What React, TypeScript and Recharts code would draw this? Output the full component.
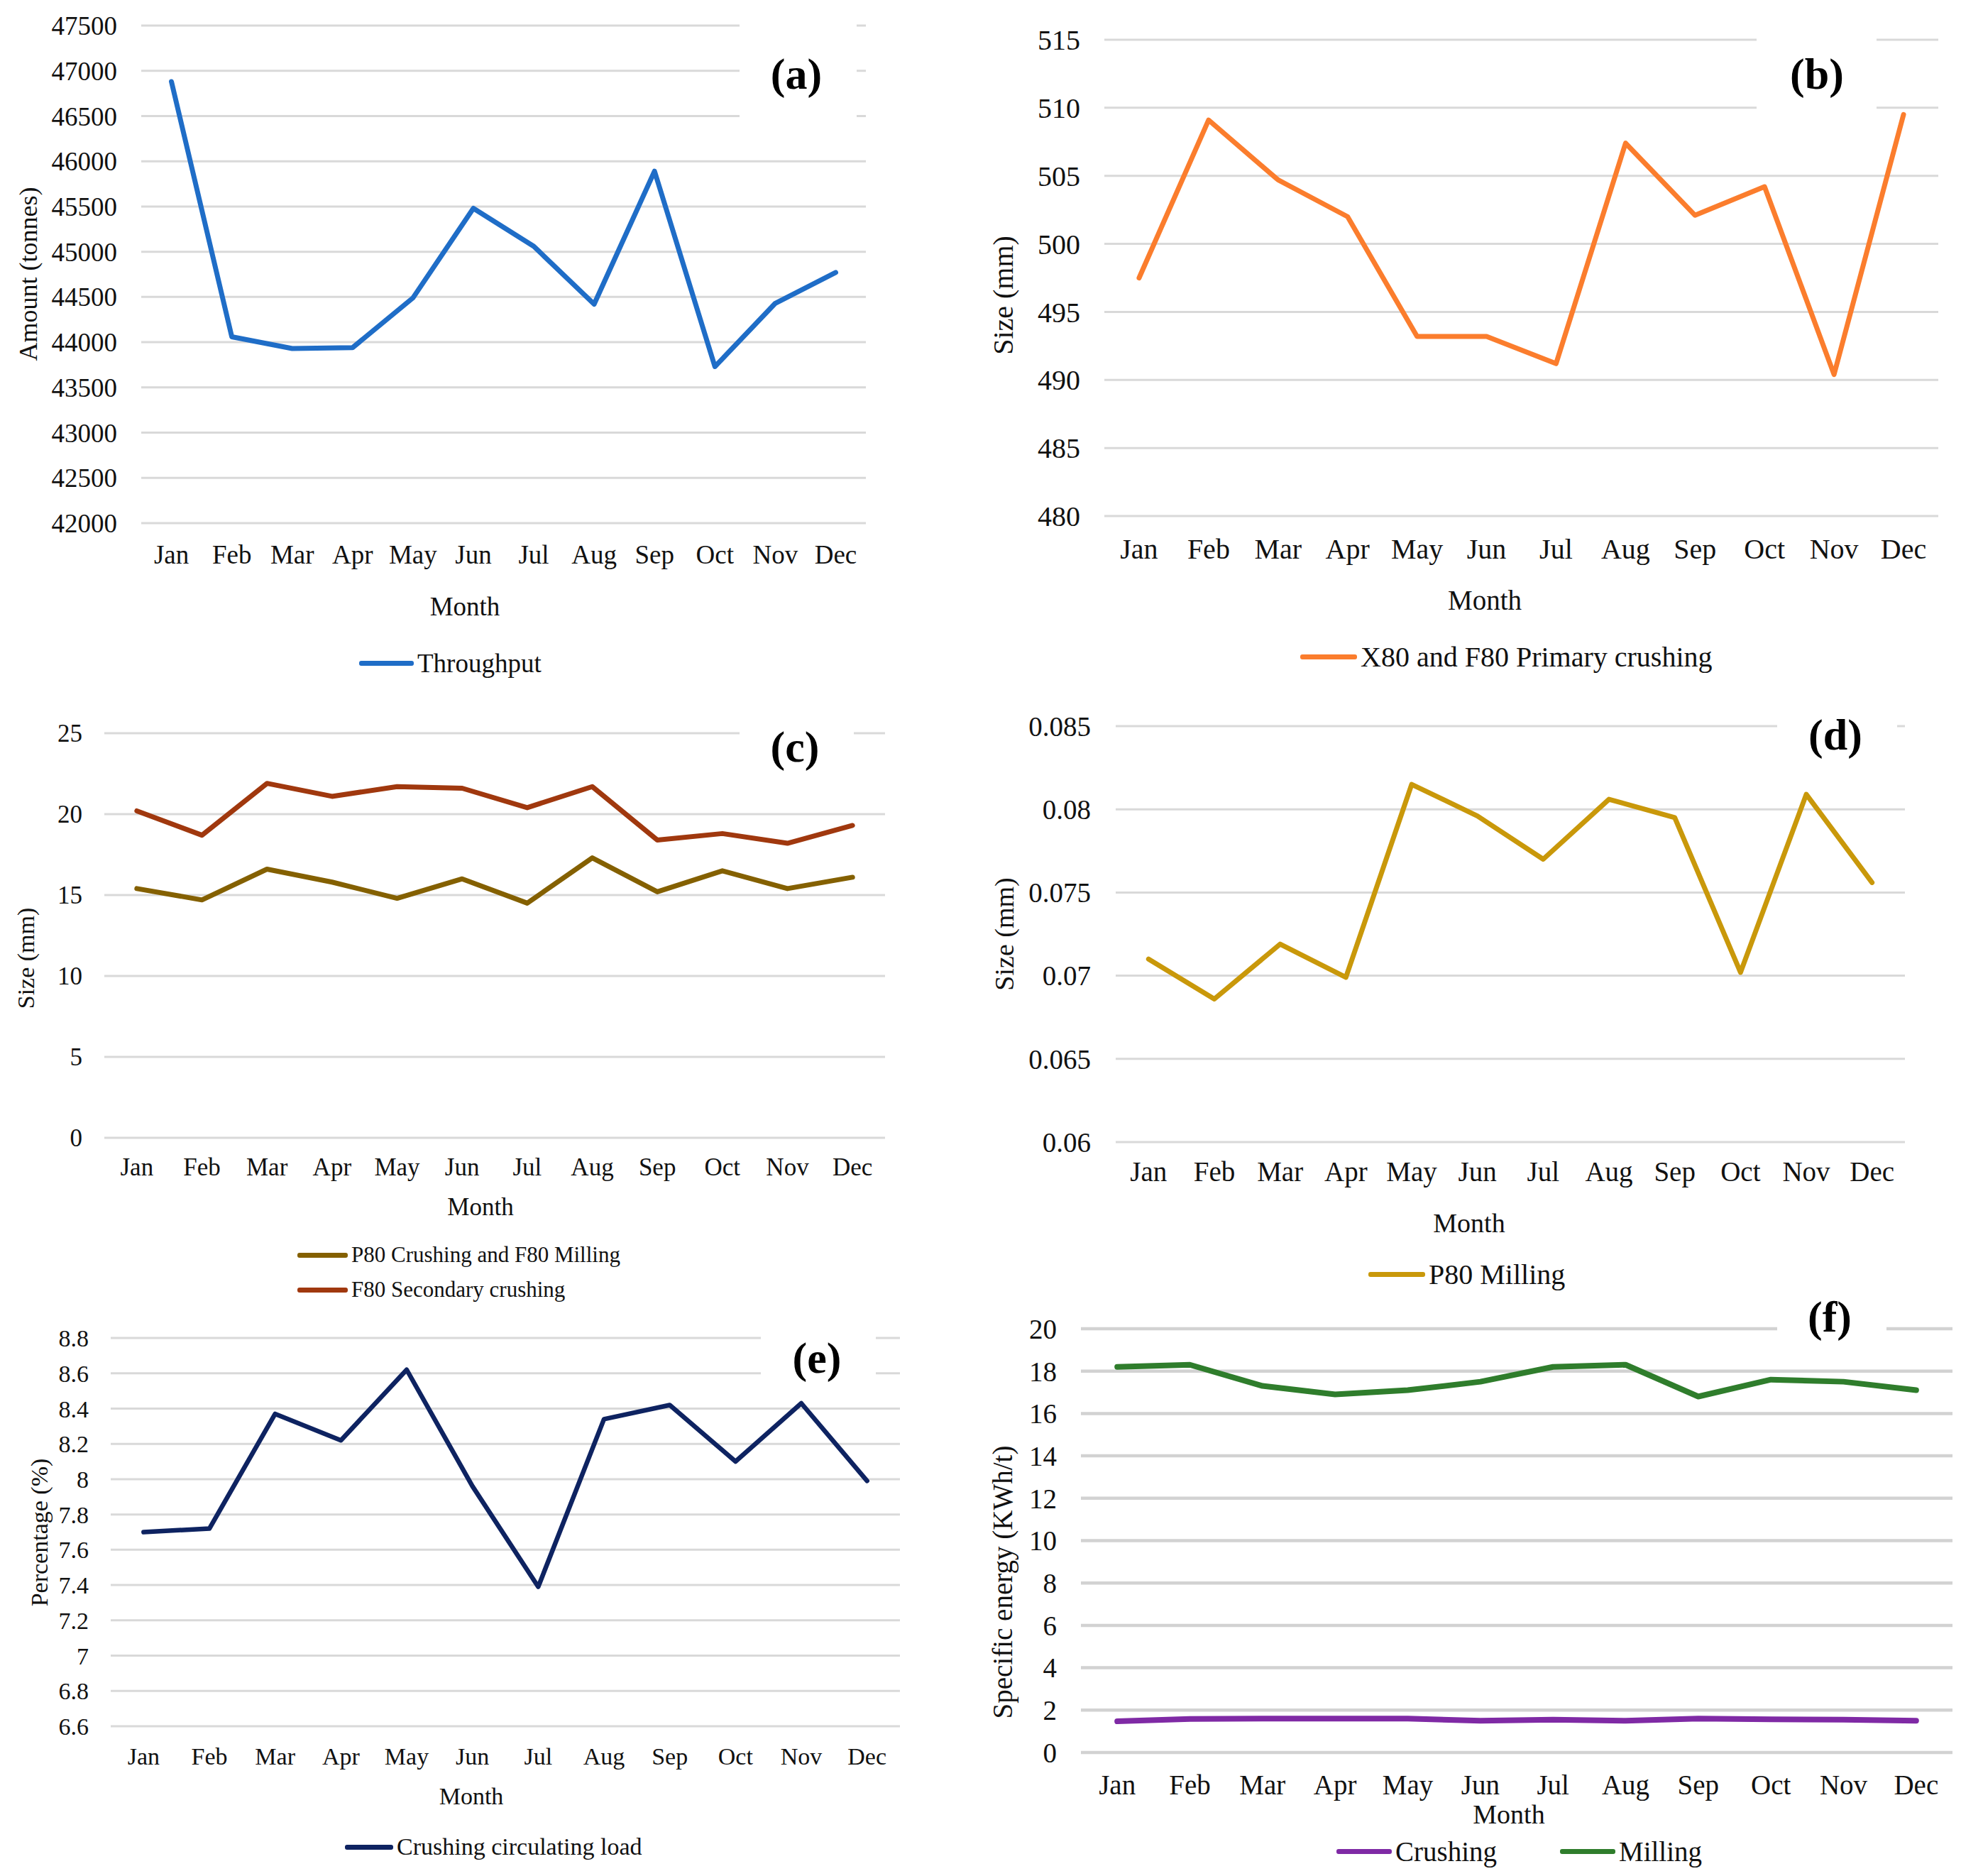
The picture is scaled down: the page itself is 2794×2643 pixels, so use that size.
import { LineChart, Line, XAxis, YAxis, CartesianGrid, Legend } from "recharts";

const FONT = '"Liberation Serif", "Times New Roman", serif';

const months = ["Jan", "Feb", "Mar", "Apr", "May", "Jun", "Jul", "Aug", "Sep", "Oct", "Nov", "Dec"];

// (a) throughput, tonnes
const throughput = [46880, 44060, 43930, 43940, 44490, 45480, 45060, 44420, 45890, 43730, 44430, 44770];
// (b) X80 and F80 primary crushing, mm
const primaryCrushing = [497.5, 509.1, 504.7, 502.0, 493.2, 493.2, 491.2, 507.4, 502.1, 504.2, 490.4, 509.5];
// (c) sizes, mm
const p80CrushingF80Milling = [15.4, 14.7, 16.6, 15.8, 14.8, 16.0, 14.5, 17.3, 15.2, 16.5, 15.4, 16.1];
const f80Secondary = [20.2, 18.7, 21.9, 21.1, 21.7, 21.6, 20.4, 21.7, 18.4, 18.8, 18.2, 19.3];
// (d) P80 milling, mm
const p80Milling = [0.071, 0.0686, 0.0719, 0.0699, 0.0815, 0.0796, 0.077, 0.0806, 0.0795, 0.0702, 0.0809, 0.0756];
// (e) crushing circulating load, %
const circulatingLoad = [7.7, 7.72, 8.37, 8.22, 8.62, 7.96, 7.39, 8.34, 8.42, 8.1, 8.43, 7.99];
// (f) specific energy, kWh/t
const crushingEnergy = [1.47, 1.58, 1.6, 1.6, 1.6, 1.5, 1.55, 1.5, 1.6, 1.57, 1.55, 1.5];
const millingEnergy = [18.2, 18.3, 17.3, 16.9, 17.1, 17.5, 18.2, 18.3, 16.8, 17.6, 17.5, 17.1];

const ticksA = [42000, 42500, 43000, 43500, 44000, 44500, 45000, 45500, 46000, 46500, 47000, 47500];
const ticksB = [480, 485, 490, 495, 500, 505, 510, 515];
const ticksC = [0, 5, 10, 15, 20, 25];
const ticksD = [0.06, 0.065, 0.07, 0.075, 0.08, 0.085];
const ticksE = [6.6, 6.8, 7, 7.2, 7.4, 7.6, 7.8, 8, 8.2, 8.4, 8.6, 8.8];
const ticksF = [0, 2, 4, 6, 8, 10, 12, 14, 16, 18, 20];

type Series = { key: string; name: string; color: string; values: number[] };

type PanelCfg = {
  x0: number; y0: number; w: number; h: number;
  L: number; R: number; T: number; B: number;
  fs: number; yTickGap: number; xTickGap: number;
  yTicks: number[];
  yTitle: string; yTitleX: number; yTitleY: number; yTitleFs: number;
  monthX: number; monthY: number; monthFs: number;
  series: Series[];
  stroke: number;
  grid: { color: string; width: number };
  // y is the centre of the first legend row
  legend: { x: number; y: number; fs: number; lineLen: number; vertical?: boolean; rowH?: number; itemGap?: number };
  letter: { text: string; cx: number; cy: number; l: number; r: number; t: number; b: number };
};

function Panel({ cfg }: { cfg: PanelCfg }) {
  const data = months.map((m, i) => {
    const row: Record<string, string | number> = { month: m };
    cfg.series.forEach((s) => {
      row[s.key] = s.values[i];
    });
    return row;
  });
  const pad = (cfg.R - cfg.L) / 24;
  const lg = cfg.legend;
  const rowH = lg.rowH ?? Math.round(lg.fs * 1.3);
  const order = cfg.series.map((s) => s.name);

  const legendContent = (props: any) => {
    const items = [...(props.payload || [])].sort(
      (a: any, b: any) => order.indexOf(a.value) - order.indexOf(b.value)
    );
    return (
      <div
        style={{
          display: "flex",
          flexDirection: lg.vertical ? "column" : "row",
          fontFamily: FONT,
          fontSize: lg.fs,
          color: "#111",
          whiteSpace: "nowrap",
        }}
      >
        {items.map((e: any) => (
          <div
            key={e.value}
            style={{ display: "flex", alignItems: "center", height: rowH, marginRight: lg.itemGap ?? 0 }}
          >
            <span
              style={{
                display: "inline-block",
                width: lg.lineLen,
                height: 7,
                borderRadius: 3,
                background: e.color,
                marginRight: 5,
              }}
            />
            <span>{e.value}</span>
          </div>
        ))}
      </div>
    );
  };

  const lx = cfg.letter;

  return (
    <div style={{ position: "absolute", left: cfg.x0, top: cfg.y0, width: cfg.w, height: cfg.h }}>
      <LineChart
        width={cfg.w}
        height={cfg.h}
        data={data}
        margin={{ top: cfg.T - cfg.y0, right: cfg.x0 + cfg.w - cfg.R, bottom: 0, left: 0 }}
      >
        <CartesianGrid vertical={false} stroke={cfg.grid.color} strokeWidth={cfg.grid.width} />
        <XAxis
          dataKey="month"
          height={cfg.y0 + cfg.h - cfg.B}
          padding={{ left: pad, right: pad }}
          axisLine={false}
          tickLine={false}
          tickSize={0}
          tickMargin={cfg.xTickGap}
          interval={0}
          tick={{ fill: "#111", fontSize: cfg.fs, fontFamily: FONT }}
          label={() => (
            <text
              x={cfg.monthX - cfg.x0}
              y={cfg.monthY - cfg.y0}
              textAnchor="middle"
              dominantBaseline="central"
              fontFamily={FONT}
              fontSize={cfg.monthFs}
              fill="#111"
            >
              Month
            </text>
          )}
        />
        <YAxis
          width={cfg.L - cfg.x0}
          type="number"
          domain={[cfg.yTicks[0], cfg.yTicks[cfg.yTicks.length - 1]]}
          ticks={cfg.yTicks}
          interval={0}
          axisLine={false}
          tickLine={false}
          tickSize={0}
          tickMargin={cfg.yTickGap}
          tick={{ fill: "#111", fontSize: cfg.fs, fontFamily: FONT }}
          label={() => (
            <text
              x={cfg.yTitleX - cfg.x0}
              y={cfg.yTitleY - cfg.y0}
              transform={`rotate(-90, ${cfg.yTitleX - cfg.x0}, ${cfg.yTitleY - cfg.y0})`}
              textAnchor="middle"
              dominantBaseline="central"
              fontFamily={FONT}
              fontSize={cfg.yTitleFs}
              fill="#111"
            >
              {cfg.yTitle}
            </text>
          )}
        />
        <Legend
          layout="horizontal"
          verticalAlign="middle"
          align="center"
          content={legendContent}
          wrapperStyle={{
            left: lg.x - cfg.x0,
            top: lg.y - cfg.y0 - rowH / 2,
            width: "auto",
            height: "auto",
          }}
        />
        {cfg.series.map((s) => (
          <Line
            key={s.key}
            type="linear"
            dataKey={s.key}
            name={s.name}
            stroke={s.color}
            strokeWidth={cfg.stroke}
            strokeLinejoin="round"
            strokeLinecap="round"
            dot={false}
            activeDot={false}
            isAnimationActive={false}
          />
        ))}
      </LineChart>
      <div
        style={{
          position: "absolute",
          left: lx.l - cfg.x0,
          top: lx.t - cfg.y0,
          width: lx.r - lx.l,
          height: lx.b - lx.t,
          background: "#fff",
        }}
      />
      <div
        style={{
          position: "absolute",
          left: lx.cx - cfg.x0,
          top: lx.cy - cfg.y0,
          transform: "translate(-50%, -50%)",
          fontFamily: FONT,
          fontWeight: "bold",
          fontSize: 62,
          lineHeight: 1,
          color: "#000",
          whiteSpace: "nowrap",
        }}
      >
        {lx.text}
      </div>
    </div>
  );
}

const grid = { color: "#d9d9d9", width: 3 };

const panels: PanelCfg[] = [
  {
    x0: 0, y0: 0, w: 1240, h: 975, L: 199, R: 1220, T: 36, B: 737,
    fs: 37, yTickGap: 34, xTickGap: 31, yTicks: ticksA,
    yTitle: "Amount (tonnes)", yTitleX: 40, yTitleY: 386, yTitleFs: 36,
    monthX: 655, monthY: 854, monthFs: 37,
    series: [{ key: "throughput", name: "Throughput", color: "#1F6DC7", values: throughput }],
    stroke: 7, grid,
    legend: { x: 506, y: 934, fs: 37, lineLen: 77 },
    letter: { text: "(a)", cx: 1122, cy: 104, l: 1042, r: 1207, t: 20, b: 180 },
  },
  {
    x0: 1360, y0: 0, w: 1434, h: 975, L: 1556, R: 2731, T: 56, B: 727,
    fs: 40, yTickGap: 34, xTickGap: 32, yTicks: ticksB,
    yTitle: "Size (mm)", yTitleX: 1413, yTitleY: 416, yTitleFs: 40,
    monthX: 2092, monthY: 845, monthFs: 39,
    series: [{ key: "primary", name: "X80 and F80 Primary crushing", color: "#FB7D2D", values: primaryCrushing }],
    stroke: 7, grid,
    legend: { x: 1832, y: 925, fs: 40, lineLen: 80 },
    letter: { text: "(b)", cx: 2560, cy: 104, l: 2475, r: 2644, t: 30, b: 170 },
  },
  {
    x0: 0, y0: 975, w: 1300, h: 870, L: 147, R: 1247, T: 1033, B: 1603,
    fs: 35, yTickGap: 31, xTickGap: 28, yTicks: ticksC,
    yTitle: "Size (mm)", yTitleX: 36, yTitleY: 1350, yTitleFs: 34,
    monthX: 677, monthY: 1700, monthFs: 35,
    series: [
      { key: "p80c", name: "P80 Crushing and F80 Milling", color: "#846000", values: p80CrushingF80Milling },
      { key: "f80s", name: "F80 Secondary crushing", color: "#A0380E", values: f80Secondary },
    ],
    stroke: 7, grid,
    legend: { x: 419, y: 1768, fs: 31, lineLen: 71, vertical: true, rowH: 49 },
    letter: { text: "(c)", cx: 1120, cy: 1052, l: 1042, r: 1203, t: 1005, b: 1100 },
  },
  {
    x0: 1360, y0: 975, w: 1434, h: 865, L: 1572, R: 2684, T: 1023, B: 1609,
    fs: 39, yTickGap: 35, xTickGap: 27, yTicks: ticksD,
    yTitle: "Size (mm)", yTitleX: 1415, yTitleY: 1316, yTitleFs: 38,
    monthX: 2070, monthY: 1723, monthFs: 38,
    series: [{ key: "p80m", name: "P80 Milling", color: "#C9980A", values: p80Milling }],
    stroke: 7, grid,
    legend: { x: 1928, y: 1795, fs: 40, lineLen: 80 },
    letter: { text: "(d)", cx: 2586, cy: 1035, l: 2504, r: 2673, t: 1000, b: 1075 },
  },
  {
    x0: 0, y0: 1845, w: 1300, h: 798, L: 156, R: 1268, T: 1885, B: 2432,
    fs: 34, yTickGap: 31, xTickGap: 30, yTicks: ticksE,
    yTitle: "Percentage (%)", yTitleX: 55, yTitleY: 2159, yTitleFs: 34,
    monthX: 664, monthY: 2530, monthFs: 34,
    series: [{ key: "ccl", name: "Crushing circulating load", color: "#0E2361", values: circulatingLoad }],
    stroke: 6.5, grid,
    legend: { x: 486, y: 2602, fs: 34, lineLen: 68 },
    letter: { text: "(e)", cx: 1151, cy: 1913, l: 1072, r: 1234, t: 1860, b: 1955 },
  },
  {
    x0: 1360, y0: 1840, w: 1434, h: 803, L: 1523, R: 2751, T: 1872, B: 2469,
    fs: 39, yTickGap: 34, xTickGap: 31, yTicks: ticksF,
    yTitle: "Specific energy (KWh/t)", yTitleX: 1412, yTitleY: 2229, yTitleFs: 39,
    monthX: 2126, monthY: 2556, monthFs: 38,
    series: [
      { key: "crushE", name: "Crushing", color: "#7F2AA5", values: crushingEnergy },
      { key: "millE", name: "Milling", color: "#2F7D2C", values: millingEnergy },
    ],
    stroke: 8, grid: { color: "#d2d2d2", width: 4.5 },
    legend: { x: 1883, y: 2608, fs: 39, lineLen: 78, itemGap: 89 },
    letter: { text: "(f)", cx: 2578, cy: 1855, l: 2504, r: 2658, t: 1815, b: 1895 },
  },
];

export default function App() {
  return (
    <div style={{ position: "absolute", left: 0, top: 0, width: 2794, height: 2643, background: "#fff", overflow: "hidden" }}>
      {panels.map((p, i) => (
        <Panel key={i} cfg={p} />
      ))}
    </div>
  );
}
